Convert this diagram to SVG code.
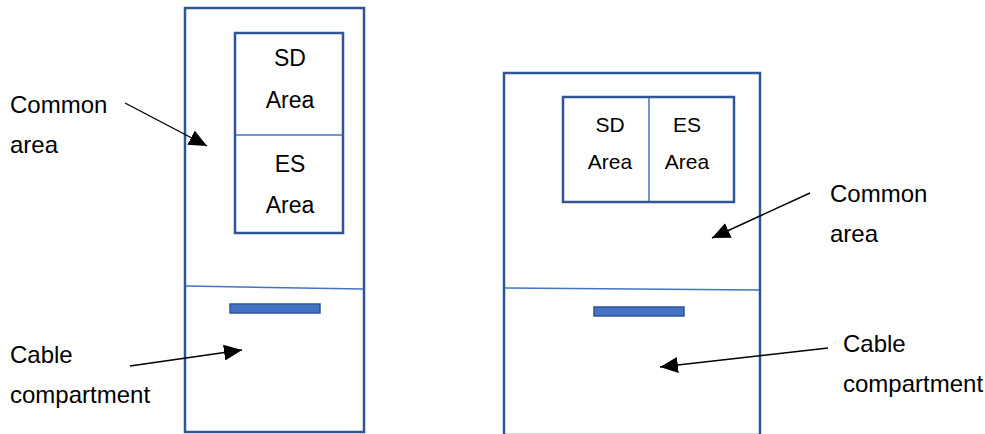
<svg xmlns="http://www.w3.org/2000/svg" width="985" height="434" viewBox="0 0 985 434">
<style>
.outer{fill:#fff;stroke:#2F5597;stroke-width:2.5}
.inner{fill:#fff;stroke:#2F5597;stroke-width:2.5}
.div{stroke:#4472C4;stroke-width:1.5;fill:none}
.bar{fill:#4472C4;stroke:#2F5597;stroke-width:1.5}
.t{font-family:"Liberation Sans",Arial,sans-serif;fill:#000}
.conn{stroke:#000;stroke-width:1.4;fill:none;marker-end:url(#ah)}
</style>
<defs>
<marker id="ah" markerUnits="userSpaceOnUse" markerWidth="20" markerHeight="16" refX="18" refY="8" orient="auto">
<path d="M0,0 L18,8 L0,16 Z" fill="#000"/>
</marker>
</defs>
<rect width="985" height="434" fill="#fff"/>
<g id="left-cabinet">
<rect class="outer" x="185" y="8" width="179" height="424"/>
<path class="div" d="M186,286 L363,289"/>
<rect class="bar" x="230" y="304" width="90" height="9"/>
</g>
<g id="left-inner">
<rect class="inner" x="235" y="33" width="108" height="200"/>
<line class="div" x1="236" y1="135" x2="342" y2="135"/>
<text class="t" x="290" y="66" font-size="23" text-anchor="middle">SD</text>
<text class="t" x="290" y="108" font-size="23" text-anchor="middle">Area</text>
<text class="t" x="290" y="172" font-size="23" text-anchor="middle">ES</text>
<text class="t" x="290" y="213" font-size="23" text-anchor="middle">Area</text>
</g>
<g id="right-cabinet">
<rect class="outer" x="504" y="73" width="256" height="362"/>
<path class="div" d="M505,288 L759,290"/>
<rect class="bar" x="594" y="307" width="90" height="9"/>
</g>
<g id="right-inner">
<rect class="inner" x="563" y="97" width="171" height="105"/>
<line class="div" x1="649" y1="98" x2="649" y2="201"/>
<text class="t" x="610" y="132" font-size="21" text-anchor="middle">SD</text>
<text class="t" x="610" y="169" font-size="21" text-anchor="middle">Area</text>
<text class="t" x="687" y="132" font-size="21" text-anchor="middle">ES</text>
<text class="t" x="687" y="169" font-size="21" text-anchor="middle">Area</text>
</g>
<g id="labels">
<text class="t" x="10" y="113" font-size="24">Common</text>
<text class="t" x="10" y="153" font-size="24">area</text>
<text class="t" x="10" y="363" font-size="24">Cable</text>
<text class="t" x="10" y="403" font-size="24">compartment</text>
<text class="t" x="830" y="202" font-size="24">Common</text>
<text class="t" x="830" y="242" font-size="24">area</text>
<text class="t" x="843" y="352" font-size="24">Cable</text>
<text class="t" x="843" y="392" font-size="24">compartment</text>
</g>
<g id="connectors">
<line class="conn" x1="125" y1="103" x2="207" y2="146"/>
<line class="conn" x1="130" y1="366" x2="242" y2="350"/>
<line class="conn" x1="810" y1="193" x2="712" y2="238"/>
<line class="conn" x1="828" y1="348" x2="660" y2="367"/>
</g>
</svg>
